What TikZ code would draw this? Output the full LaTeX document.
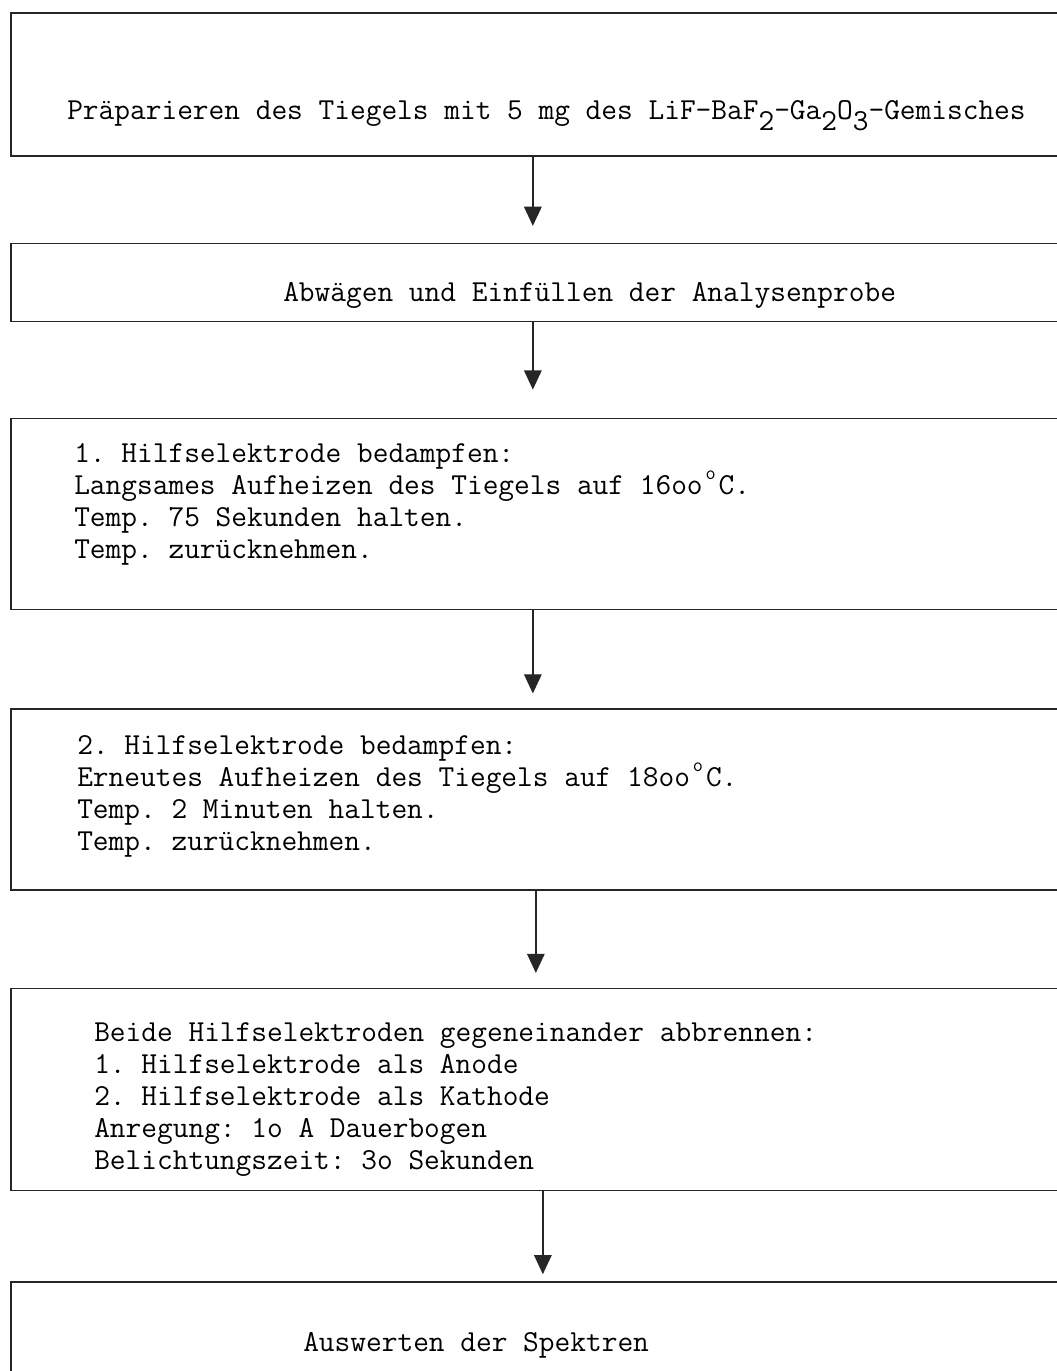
\documentclass[tikz,border=0pt]{standalone}
\usepackage{fontspec}
\usepackage{tikz}
\usetikzlibrary{
    arrows.meta,
    positioning,
}

\frenchspacing

% typewriter sub- and superscripts, one character wide
\newcommand{\tief}[1]{\raisebox{-0.33em}{#1}}
\newcommand{\grad}{\makebox[0.525em]{\raisebox{0.5em}{\fontsize{14pt}{14pt}\selectfont o}}}
% fixed typewriter spaces
\newcommand{\maschine}{\spaceskip=0pt\relax\xspaceskip=0pt\relax}

\begin{document}
\begin{tikzpicture}[
        stepbox/.style={
            rectangle, draw=black!85, line width=1.2pt, inner sep=0pt,
            minimum width=26.75cm, minimum height=#1
        },
        zeile/.style={
            font=\ttfamily\fontsize{21.7pt}{22.76pt}\selectfont,
            inner sep=0pt, anchor=base west
        },
        block/.style={zeile, text width=22cm, align=left},
        pfeil/.style={-{Triangle[width=0.44cm, length=0.48cm]}, line width=1pt, black!85},
    ]

    \useasboundingbox (0,0) rectangle (26.4,-34.275);

    % ── Boxes ──
    \node[stepbox=3.575cm, anchor=north west] (prep) at (0.25,-0.3) {};
    \node[stepbox=1.95cm, below=2.15cm of prep] (wiegen) {};
    \node[stepbox=4.775cm, below=2.38cm of wiegen] (hilfs1) {};
    \node[stepbox=4.525cm, below=2.45cm of hilfs1] (hilfs2) {};
    \node[stepbox=5.05cm, below=2.42cm of hilfs2] (abbrand) {};
    \node[stepbox=3.25cm, below=2.25cm of abbrand] (auswert) {};

    % ── Texts ──
    \node[zeile] (prep-t) at ([shift={(1.425,-2.7)}]prep.north west)
        {Präparieren des Tiegels mit 5 mg des LiF-BaF\tief{2}-Ga\tief{2}O\tief{3}-Gemisches};
    \node[zeile] (wiegen-t) at ([shift={(6.825,-1.475)}]wiegen.north west)
        {Abwägen und Einfüllen der Analysenprobe};
    \node[block] (hilfs1-t) at ([shift={(1.6,-1.125)}]hilfs1.north west)
        {\maschine 1. Hilfselektrode bedampfen:\\
         Langsames Aufheizen des Tiegels auf 16oo\grad C.\\
         Temp. 75 Sekunden halten.\\
         Temp. zurücknehmen.};
    \node[block] (hilfs2-t) at ([shift={(1.675,-1.15)}]hilfs2.north west)
        {\maschine 2. Hilfselektrode bedampfen:\\
         Erneutes Aufheizen des Tiegels auf 18oo\grad C.\\
         Temp. 2 Minuten halten.\\
         Temp. zurücknehmen.};
    \node[block] (abbrand-t) at ([shift={(2.1,-1.35)}]abbrand.north west)
        {\maschine Beide Hilfselektroden gegeneinander abbrennen:\\
         1. Hilfselektrode als Anode\\
         2. Hilfselektrode als Kathode\\
         Anregung: 1o A Dauerbogen\\
         Belichtungszeit: 3o Sekunden};
    \node[zeile] (auswert-t) at ([shift={(7.325,-1.75)}]auswert.north west)
        {Auswerten der Spektren};

    % ── Arrows ──
    \draw[pfeil, shorten >=0.42cm] ([xshift=-0.325cm]prep.south) -- ([xshift=-0.325cm]wiegen.north);
    \draw[pfeil, shorten >=0.7cm] ([xshift=-0.325cm]wiegen.south) -- ([xshift=-0.325cm]hilfs1.north);
    \draw[pfeil, shorten >=0.37cm] ([xshift=-0.325cm]hilfs1.south) -- ([xshift=-0.325cm]hilfs2.north);
    \draw[pfeil, shorten >=0.37cm] ([xshift=-0.25cm]hilfs2.south) -- ([xshift=-0.25cm]abbrand.north);
    \draw[pfeil, shorten >=0.18cm] ([xshift=-0.075cm]abbrand.south) -- ([xshift=-0.075cm]auswert.north);

\end{tikzpicture}
\end{document}
